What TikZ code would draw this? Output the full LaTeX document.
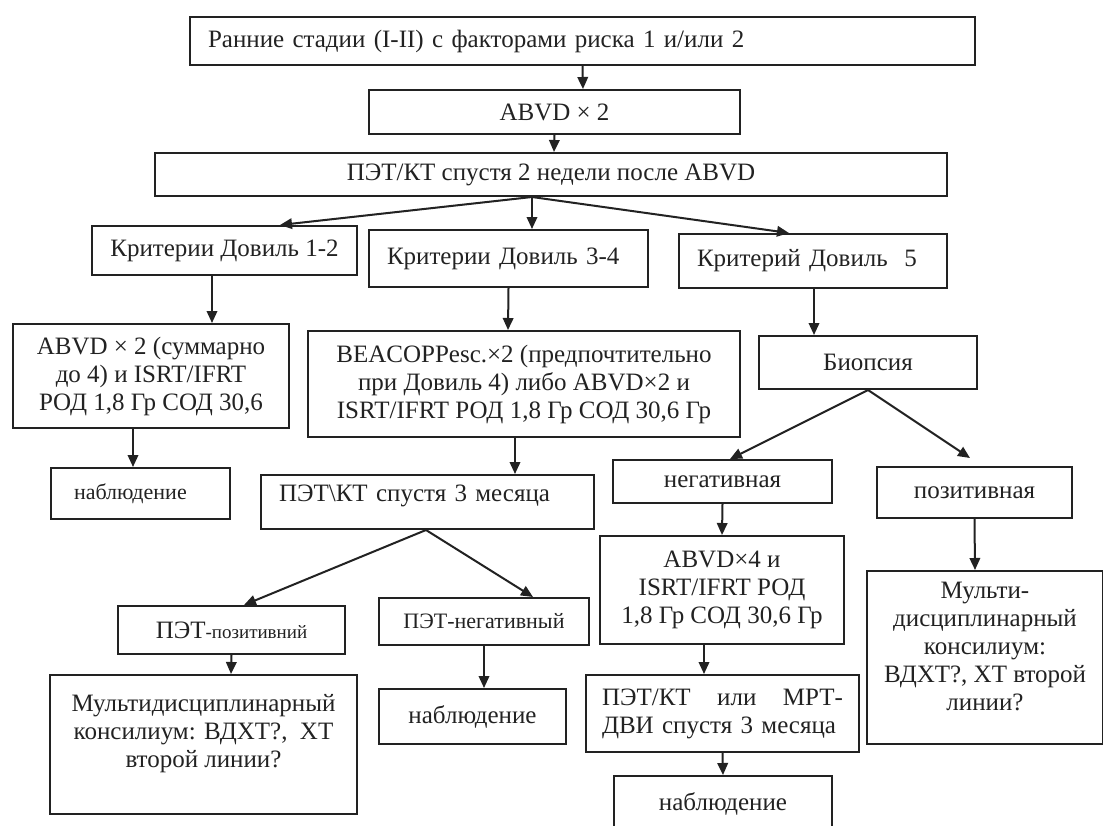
\documentclass[tikz,border=0pt]{standalone}
\usepackage{fontspec}
\setmainfont{Liberation Serif}
\usetikzlibrary{arrows.meta}
\definecolor{ink}{HTML}{222222}
\newcommand{\bodyfont}{\fontsize{25}{28}\selectfont}
\newcommand{\smallfont}{\fontsize{22}{26}\selectfont}
\newcommand{\tinyfont}{\fontsize{19}{22}\selectfont}
\begin{document}
\begin{tikzpicture}[x=1pt,y=-1pt,
  box/.style={draw=ink, line width=2pt, text=ink, inner sep=0pt,
    font=\bodyfont, align=center, anchor=north west},
  leftbox/.style={box, align=left, inner xsep=18pt},
  arr/.style={draw=ink, line width=2pt, -{Triangle[length=12pt,width=10.5pt]}},
]
\fill[white] (0,0) rectangle (1103,825);
\useasboundingbox (0,0) rectangle (1103,825);

% upper chain
\node[leftbox, text width=749pt, minimum width=785pt, minimum height=48pt] (top) at (189,16)
  {Ранние стадии (I-II) с факторами риска 1 и/или 2};
\node[box, minimum width=371pt, minimum height=44pt] (abvd) at (368,89) {ABVD × 2};
\node[box, minimum width=792pt, minimum height=43pt] (pet) at (154,152)
  {ПЭТ/КТ спустя 2 недели после ABVD};

% Deauville groups
\node[box, minimum width=265pt, minimum height=49pt] (d12) at (91,225) {Критерии Довиль 1-2};
\node[leftbox, text width=243pt, minimum width=279pt, minimum height=57pt] (d34) at (368,229)
  {Критерии Довиль 3-4};
\node[leftbox, text width=232pt, minimum width=268pt, minimum height=54pt] (d5) at (678,233)
  {Критерий Довиль~~5};

% Deauville 1-2 branch
\node[box, minimum width=276pt, minimum height=104pt] (abvd2) at (12,323)
  {ABVD × 2 (суммарно\\до 4) и ISRT/IFRT\\РОД 1,8 Гр СОД 30,6};
\node[leftbox, inner xsep=23pt, text width=133pt, minimum width=179pt, minimum height=51pt,
  font=\smallfont] (nab1) at (50,467) {наблюдение};

% Deauville 3-4 branch
\node[box, minimum width=432pt, minimum height=106pt] (beacopp) at (307,330)
  {BEACOPPesc.×2 (предпочтительно\\при Довиль 4) либо ABVD×2 и\\ISRT/IFRT РОД 1,8 Гр СОД 30,6 Гр};
\node[leftbox, text width=297pt, minimum width=333pt, minimum height=54pt,
  text depth=18pt] (pet3) at (260,474)
  {ПЭТ\textbackslash КТ спустя 3 месяца};
\node[box, minimum width=227pt, minimum height=48pt] (petpos) at (117,605)
  {ПЭТ{\tinyfont -позитивний}};
\node[box, minimum width=307pt, minimum height=139pt] (multL) at (49,674)
  {Мультидисциплинарный\\консилиум: ВДХТ?,\ \ ХТ\\второй линии?\\\mbox{}};
\node[box, minimum width=210pt, minimum height=47pt, font=\smallfont] (petneg) at (378,597)
  {ПЭТ-негативный};
\node[box, minimum width=187pt, minimum height=55pt] (nab2) at (378,688) {наблюдение};

% Deauville 5 branch
\node[box, minimum width=218pt, minimum height=53pt] (biop) at (758,335) {Биопсия};
\node[box, minimum width=219pt, minimum height=43pt] (neg) at (612,459) {негативная};
\node[box, minimum width=195pt, minimum height=51pt] (pos) at (876,466) {позитивная};
\node[box, minimum width=244pt, minimum height=108pt] (abvd4) at (599,535)
  {ABVD×4 и\\ISRT/IFRT РОД\\1,8 Гр СОД 30,6 Гр};
\node[box, align=left, inner xsep=16pt, text width=241pt, minimum width=273pt,
  minimum height=77pt] (petmrt) at (585,674)
  {ПЭТ/КТ\hfill или\hfill МРТ-\\ДВИ спустя 3 месяца};
\node[box, minimum width=218pt, minimum height=56pt] (nab3) at (613,775) {наблюдение};
\node[box, minimum width=236pt, minimum height=173pt] (multR) at (866,570)
  {Мульти-\\дисциплинарный\\консилиум:\\ВДХТ?, ХТ второй\\линии?\\[-6pt]\mbox{}};

% connectors
\draw[arr] (top.south) -- ([xshift=28.5pt]abvd.north);
\draw[arr] (abvd.south) -- ([xshift=3pt]pet.north);
\draw[arr] ([xshift=-19pt]pet.south) -- ([xshift=55.5pt]d12.north);
\draw[arr] ([xshift=-19pt]pet.south) -- ([xshift=23.5pt]d34.north);
\draw[arr] ([xshift=-19pt]pet.south) -- ([xshift=-24pt]d5.north);

\draw[arr] ([xshift=-12.5pt]d12.south) -- ([xshift=61pt]abvd2.north);
\draw[arr] ([xshift=-18pt]abvd2.south) -- ([xshift=-7.5pt]nab1.north);

\draw[arr] (d34.south) -- ([xshift=-16pt]beacopp.north);
\draw[arr] ([xshift=-9pt]beacopp.south) -- ([xshift=87.5pt]pet3.north);
\draw[arr] ([xshift=-1.5pt]pet3.south) -- ([xshift=12.5pt]petpos.north);
\draw[arr] ([xshift=-1.5pt]pet3.south) -- ([xshift=49pt]petneg.north);
\draw[arr] (petpos.south) -- ([xshift=27.5pt]multL.north);
\draw[arr] (petneg.south) -- ([xshift=11.5pt]nab2.north);

\draw[arr] ([xshift=1pt]d5.south) -- ([xshift=-54pt]biop.north);
\draw[arr] (biop.south) -- ([xshift=7.5pt]neg.north);
\draw[arr] (biop.south) -- ([xshift=-4.5pt,yshift=8pt]pos.north);
\draw[arr] (neg.south) -- (abvd4.north);
\draw[arr] ([xshift=-18pt]abvd4.south) -- ([xshift=-18.5pt]petmrt.north);
\draw[arr] (petmrt.south) -- (nab3.north);
\draw[arr] (pos.south) -- ([xshift=-10pt]multR.north);
\end{tikzpicture}
\end{document}
